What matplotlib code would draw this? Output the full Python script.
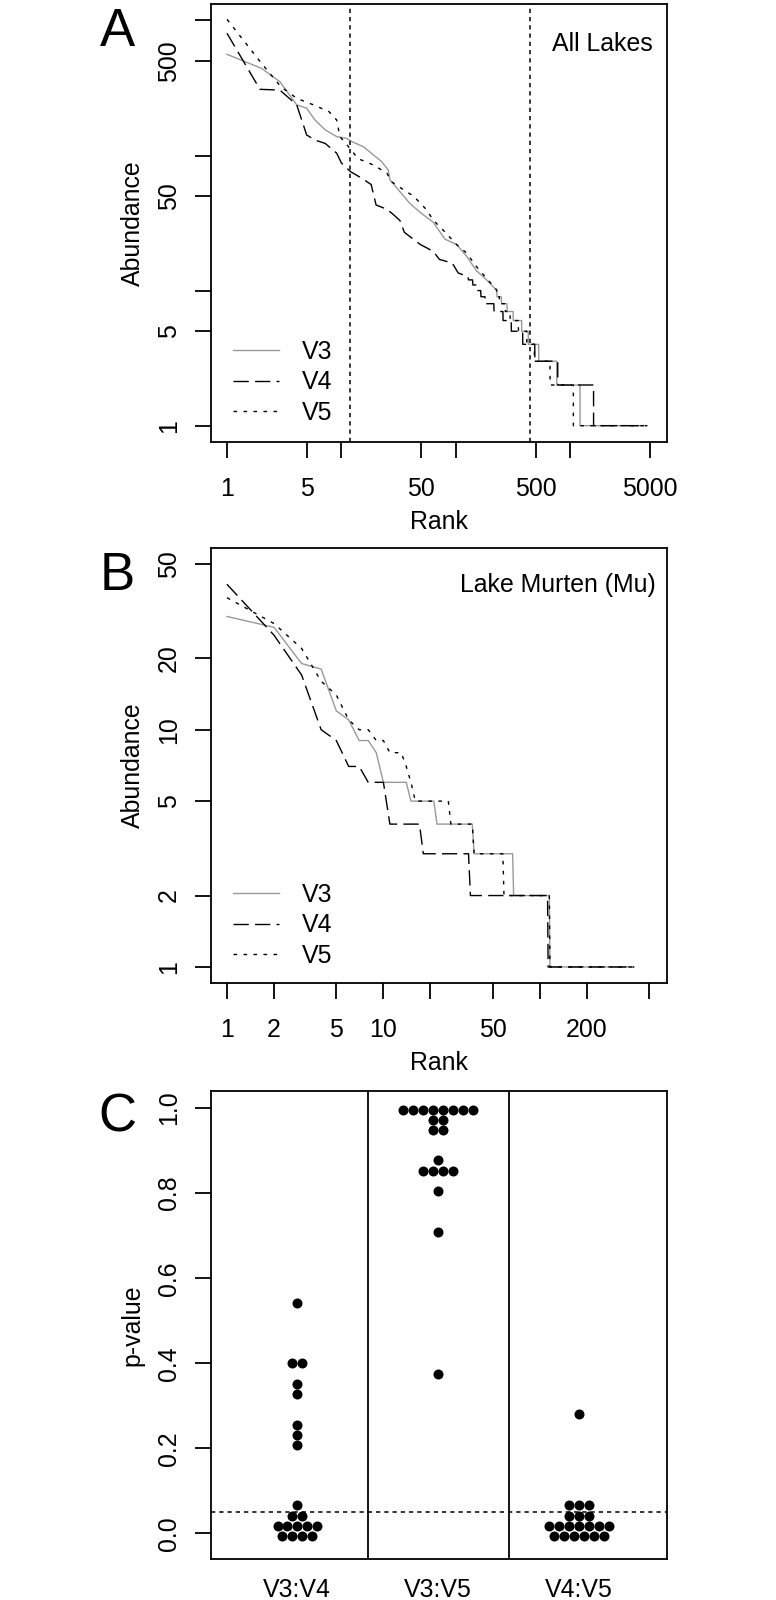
# -*- coding: utf-8 -*-
"""
rank abundance curves (A, B) and p-value beeswarm (C)
"""

import numpy as np
import matplotlib.pyplot as plt
from matplotlib.transforms import ScaledTranslation
from matplotlib.ticker import NullLocator

plt.rcParams['font.family'] = ['Liberation Sans', 'DejaVu Sans']

#-----------------------------DATA-------------------------

# panel A, all lakes: head of each curve (rank, abundance), then stepped tail
a_v3_rank = [1, 2, 2.9, 4.07, 4.97, 5.88, 7.2, 9.1, 11.1, 12.3, 15.6, 22.5, 25.7, 26.6,
             32.5, 39.8, 48.7, 63.6, 80.5, 101, 124, 152, 186, 228]
a_v3_ab = [561, 442, 352, 237, 224, 183, 155, 138, 134, 127, 116, 90, 78, 66,
           54, 44, 38, 32, 24, 22, 18, 14, 12, 10]
a_v3_lev = [9, 8, 7, 6, 5, 4, 3, 2, 1]
a_v3_end = [250, 280, 317, 376, 430, 530, 762, 1219, 4700]

a_v4_rank = [1, 1.94, 2.9, 4.07, 4.97, 5.88, 7.2, 9.1, 10, 12, 15, 18.2, 20.1, 25, 28,
             32.5, 35.5, 48.7, 63.6, 72, 93, 105, 128]
a_v4_ab = [803, 309, 305, 237, 142, 130, 123, 104, 88, 76, 68, 61, 43, 40, 37,
           33, 27, 22, 19.5, 17, 16, 13.5, 12.7]
a_v4_lev = [12, 11, 10, 9, 8, 7, 6, 5, 4, 3, 2, 1]
a_v4_end = [140, 150, 165, 180, 215, 258, 305, 384, 490, 778, 1600, 4700]

a_v5_rank = [1, 2, 2.96, 4.07, 5.7, 7.8, 9.1, 9.7, 12.2, 13.9, 19.1, 25, 27.4, 37,
             42.8, 55, 64, 81, 101, 124, 152, 186, 228]
a_v5_ab = [1019, 482, 323, 265, 237, 211, 183, 138, 110, 95, 85, 74, 64, 54,
           50, 40, 33, 27, 22, 19, 15, 12.3, 10.1]
a_v5_lev = [9, 8, 7, 6, 5, 4, 3, 2, 1]
a_v5_end = [240, 270, 298, 352, 417, 486, 666, 1065, 4700]

a_cuts = [12, 443]

# panel B, Lake Murten
b_v3_ab = [30, 27, 19, 18, 12, 11, 9, 9, 8, 6]
b_v3_lev = [6, 5, 4, 3, 2, 1]
b_v3_end = [14, 21, 37, 67, 115, 400]

b_v4_ab = [41, 25, 17, 10, 9, 7, 7, 6, 6, 6]
b_v4_lev = [6, 4, 3, 2, 1]
b_v4_end = [10, 17, 35, 112, 400]

b_v5_ab = [36, 28, 22, 16, 14, 11, 10, 10, 9, 9, 8, 8, 8, 7, 6, 5]
b_v5_lev = [5, 4, 3, 2, 1]
b_v5_end = [26, 37, 58, 115, 400]

# panel C, p-values of pairwise comparisons
pairs = ['V3:V4', 'V3:V5', 'V4:V5']
p_v3v4 = [0.542, 0.400, 0.400, 0.352, 0.328, 0.256, 0.232, 0.208, 0.066,
          0.042, 0.042] + [0.018]*5 + [-0.006]*4
p_v3v5 = [0.996]*8 + [0.972]*2 + [0.948]*2 + [0.877] + [0.853]*4 + [0.804, 0.709, 0.375]
p_v4v5 = [0.280] + [0.066]*3 + [0.042]*3 + [0.018]*7 + [-0.006]*6
p_cut = 0.05

#-----------------------------STYLE-------------------------

W, H = 776, 1600
FS = 17.9
LW = 1.3
st = {'V3': dict(color='#999999', lw=1.0, ls='-'),
      'V4': dict(color='black', lw=1.0, ls=(0, (11, 4.5))),
      'V5': dict(color='black', lw=1.0, ls=(0, (2.6, 4.6)))}
dotted = (0, (2.8, 2.6))

fig = plt.figure(figsize=(W/100, H/100), dpi=100)


def rect(l, t, r, b):
    return [l/W, 1-b/H, (r-l)/W, (b-t)/H]


def off(base, dx, dy):
    # shift a transform by pixels (dy positive = down)
    return base + ScaledTranslation(dx/100., -dy/100., fig.dpi_scale_trans)


def stepped(rank, ab, lev, end):
    r = list(rank)
    a = list(ab)
    for l, e in zip(lev, end):
        if l != a[-1]:
            r.append(r[-1]+1)
            a.append(l)
        r.append(e)
        a.append(l)
    return r, a


def frame(ax):
    for s in ax.spines.values():
        s.set_linewidth(LW)
    ax.tick_params(length=11.5, width=LW, direction='out',
                   labelbottom=False, labelleft=False)


def xlabels(ax, vals, labs, dy=54):
    for v, t in zip(vals, labs):
        ax.text(v, 0, t, transform=off(ax.get_xaxis_transform(), 0, dy),
                ha='center', va='baseline', fontsize=FS)


def ylabels(ax, vals, labs, dx=-35):
    for v, t in zip(vals, labs):
        ax.text(0, v, t, transform=off(ax.get_yaxis_transform(), dx, 0),
                ha='center', va='baseline', rotation=90,
                rotation_mode='anchor', fontsize=FS)


def titles(ax, xl, yl, xdy=87, ydx=-71):
    if xl:
        ax.text(0.5, 0, xl, transform=off(ax.transAxes, 0, xdy),
                ha='center', va='baseline', fontsize=FS)
    ax.text(0, 0.5, yl, transform=off(ax.transAxes, ydx, 0),
            ha='center', va='baseline', rotation=90,
            rotation_mode='anchor', fontsize=FS)


def rank_panel(ax, series, xlim, ylim, xt, xtl, yt, ytl, note, ndx, ndy, leg_y):
    for name, (r, a) in series.items():
        ax.plot(r, a, label=name, **st[name])
    ax.set_xscale('log')
    ax.set_yscale('log')
    ax.set_xlim(*xlim)
    ax.set_ylim(*ylim)
    ax.set_xticks(xt)
    ax.set_yticks(yt)
    ax.xaxis.set_minor_locator(NullLocator())
    ax.yaxis.set_minor_locator(NullLocator())
    frame(ax)
    xlabels(ax, xt, xtl)
    ylabels(ax, yt, ytl)
    titles(ax, 'Rank', 'Abundance')
    ax.text(1, 1, note, transform=off(ax.transAxes, ndx, ndy),
            ha='right', va='baseline', fontsize=FS)
    ax.legend(loc='upper left', bbox_to_anchor=(0.0482, leg_y), frameon=False,
              fontsize=FS, handlelength=1.85, handletextpad=0.94,
              labelspacing=0.26, borderpad=0, borderaxespad=0)


#-----------------------------PANEL A-------------------------

axA = fig.add_axes(rect(210.7, 4, 667, 442))
sA = {'V3': stepped(a_v3_rank, a_v3_ab, a_v3_lev, a_v3_end),
      'V4': stepped(a_v4_rank, a_v4_ab, a_v4_lev, a_v4_end),
      'V5': stepped(a_v5_rank, a_v5_ab, a_v5_lev, a_v5_end)}
rank_panel(axA, sA, (0.7204, 7017), (0.757, 1323),
           [1, 5, 10, 50, 100, 500, 1000, 5000], ['1', '5', '', '50', '', '500', '', '5000'],
           [1, 5, 10, 50, 100, 500, 1000], ['1', '5', '', '50', '', '500', ''],
           'All Lakes', -14.5, 47, 1-(340-4)/438.)
for c in a_cuts:
    axA.axvline(c, color='black', lw=1.1, ls=dotted)

#-----------------------------PANEL B-------------------------

axB = fig.add_axes(rect(210.7, 548, 667, 983))
sB = {'V3': stepped(np.arange(1, len(b_v3_ab)+1), b_v3_ab, b_v3_lev, b_v3_end),
      'V4': stepped(np.arange(1, len(b_v4_ab)+1), b_v4_ab, b_v4_lev, b_v4_end),
      'V5': stepped(np.arange(1, len(b_v5_ab)+1), b_v5_ab, b_v5_lev, b_v5_end)}
rank_panel(axB, sB, (0.787, 650), (0.856, 58.3),
           [1, 2, 5, 10, 20, 50, 100, 200, 500], ['1', '2', '5', '10', '', '50', '', '200', ''],
           [1, 2, 5, 10, 20, 50], ['1', '2', '5', '10', '20', '50'],
           'Lake Murten (Mu)', -11, 44, 1-(883-548)/435.)

#-----------------------------PANEL C-------------------------

axC = fig.add_axes(rect(210.7, 1091, 667, 1559))
step = 0.0703
for i, vals in enumerate([p_v3v4, p_v3v5, p_v4v5]):
    vals = np.array(vals)
    xs = np.zeros(len(vals))
    for v in np.unique(vals):
        idx = np.where(vals == v)[0]
        xs[idx] = (np.arange(len(idx)) - (len(idx)-1)/2.)*step
    axC.plot(i+1+xs, vals, 'o', color='black', ms=7.2, mew=0)
axC.axhline(p_cut, color='black', lw=1.1, ls=dotted)
for d in [1.5, 2.5]:
    axC.axvline(d, color='black', lw=LW)
axC.set_xlim(0.385, 3.625)
axC.set_ylim(-0.06, 1.04)
axC.set_xticks([])
yC = [0, 0.2, 0.4, 0.6, 0.8, 1.0]
axC.set_yticks(yC)
frame(axC)
xlabels(axC, [1, 2, 3], pairs, dy=38)
ylabels(axC, yC, ['%.1f' % v for v in yC])
titles(axC, None, 'p-value')

#-----------------------------LETTERS-------------------------

for lab, yb in [('A', 46), ('B', 590), ('C', 1131)]:
    fig.text(117.5/W, 1-yb/float(H), lab, ha='center', va='baseline', fontsize=38)

plt.savefig('out.png', dpi=100)
